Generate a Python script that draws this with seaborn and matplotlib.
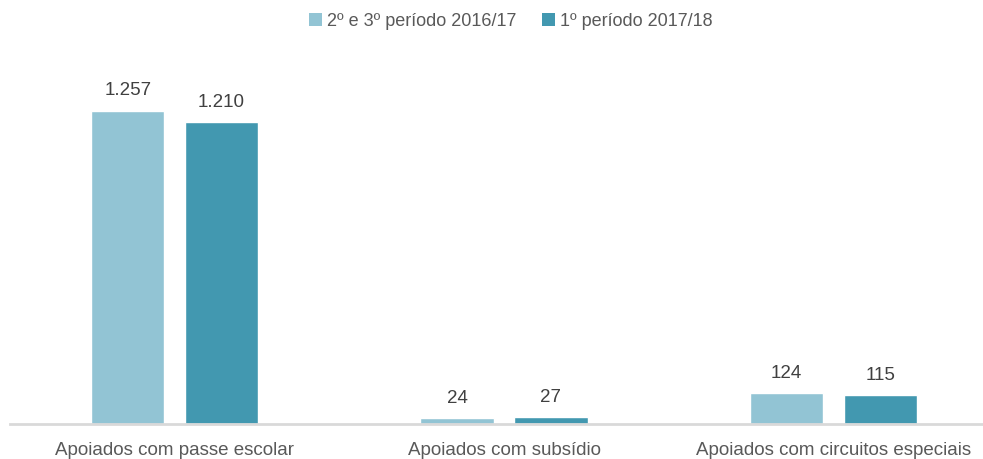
import matplotlib
matplotlib.use("Agg")
import matplotlib.pyplot as plt
import seaborn as sns
import pandas as pd
from matplotlib.patches import Patch

categories = ["Apoiados com passe escolar", "Apoiados com subsídio", "Apoiados com circuitos especiais"]
series_names = ["2º e 3º período 2016/17", "1º período 2017/18"]
values_2016 = [1257, 24, 124]
values_2017 = [1210, 27, 115]
value_labels_2016 = ["1.257", "24", "124"]
value_labels_2017 = ["1.210", "27", "115"]
colors = ["#92C4D4", "#4298B0"]

df = pd.DataFrame({
    "cat": categories * 2,
    "serie": [series_names[0]] * 3 + [series_names[1]] * 3,
    "val": values_2016 + values_2017,
})

sns.set_theme(style="white")
fam = ["Liberation Sans Narrow", "Liberation Sans", "DejaVu Sans"]
plt.rcParams["font.family"] = fam

fig = plt.figure(figsize=(9.83, 4.6), dpi=100)
ax = fig.add_axes([10 / 983, 35 / 460, 988 / 983, 349 / 460])
sns.barplot(data=df, x="cat", y="val", hue="serie", palette=colors,
            width=0.57, gap=0.22, ax=ax, legend=False, saturation=1)

ax.set_xlim(-0.5, 2.5)
ax.set_ylim(0, 1400)
ax.set_xlabel("")
ax.set_ylabel("")
ax.set_yticks([])
for s in ["top", "right", "left"]:
    ax.spines[s].set_visible(False)
ax.spines["bottom"].set_color("#D9D9D9")
ax.spines["bottom"].set_linewidth(2)
ax.tick_params(axis="x", length=0, pad=12, labelsize=13.5, labelcolor="#595959")

labels_all = [value_labels_2016, value_labels_2017]
for cont, labs in zip(ax.containers, labels_all):
    ax.bar_label(cont, labels=labs, padding=9, fontsize=13.5, color="#404040")

handles = [Patch(facecolor=c, edgecolor="none") for c in colors]
fig.legend(handles, series_names, loc="center", bbox_to_anchor=(511 / 983, 1 - 22 / 460),
           ncol=2, frameon=False, fontsize=13, labelcolor="#595959",
           handlelength=0.7, handleheight=0.7, handletextpad=0.3, columnspacing=1.4)

fig.savefig("out.png", dpi=100)
